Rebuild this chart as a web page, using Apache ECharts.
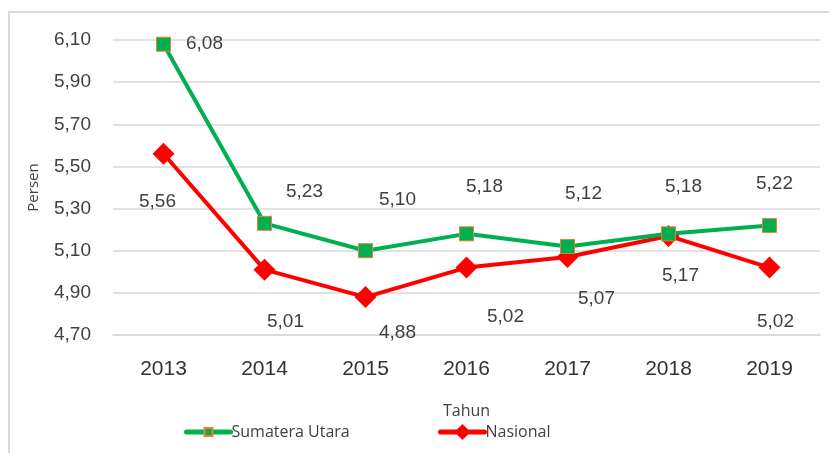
<!DOCTYPE html>
<html>
<head>
<meta charset="utf-8">
<script src="https://cdn.jsdelivr.net/npm/echarts@6/dist/echarts.min.js"></script>
<style>
  html, body { margin: 0; padding: 0; background: #fff; }
  #chart { width: 829px; height: 453px; }
</style>
</head>
<body>
<div id="chart"></div>
<script>
const years = ['2013', '2014', '2015', '2016', '2017', '2018', '2019']
const sumut = [6.08, 5.23, 5.10, 5.18, 5.12, 5.18, 5.22]
const nasional = [5.56, 5.01, 4.88, 5.02, 5.07, 5.17, 5.02]
const yTicks = [4.7, 6.1, 0.2] // min, max, step

// label placement relative to each point (layout only)
const sumutLabelOffsets = [[41, 0], [40, -32], [32, -51], [18, -47], [16, -53], [15, -47], [5, -42]]
const nasLabelOffsets = [[-6, 48], [21, 52], [32, 36], [39, 49], [29, 42], [12, 40], [6, 54]]

const fmt = v => v.toFixed(2).replace('.', ',')
const textColor = '#404040'
const font = 'Liberation Sans, Arial, sans-serif'
const uiFont = 'Open Sans, sans-serif'

const withLabels = (values, offsets) => values.map((v, i) => ({
  value: v,
  label: { offset: offsets[i] }
}))

const legendBase = {
  itemWidth: 44,
  lineStyle: { width: 5, cap: 'round' },
  textStyle: { color: textColor, fontFamily: uiFont, fontSize: 16, padding: [0, 0, 0, -4] }
}

const chart = echarts.init(document.getElementById('chart'), null, { renderer: 'canvas' })

const option = {
  animation: false,
  backgroundColor: '#fff',
  graphic: [{
    type: 'rect',
    shape: { x: 9, y: 12, width: 900, height: 600 },
    style: { fill: 'none', stroke: '#d9d9d9', lineWidth: 2 },
    silent: true
  }],
  grid: { left: 113, right: 9, top: 40, bottom: 118 },
  xAxis: {
    type: 'category',
    data: years,
    boundaryGap: true,
    name: 'Tahun',
    nameLocation: 'middle',
    nameGap: 68,
    nameTextStyle: { color: textColor, fontFamily: uiFont, fontSize: 16 },
    axisLine: { lineStyle: { color: '#d9d9d9', width: 1.5 } },
    axisTick: { show: false },
    axisLabel: { color: '#333', fontFamily: font, fontSize: 21, margin: 24 }
  },
  yAxis: {
    type: 'value',
    min: yTicks[0],
    max: yTicks[1],
    interval: yTicks[2],
    name: 'Persen',
    nameLocation: 'middle',
    nameGap: 72,
    nameRotate: 90,
    nameTextStyle: { color: textColor, fontFamily: uiFont, fontSize: 15 },
    axisLine: { show: false },
    axisTick: { show: false },
    axisLabel: { color: textColor, fontFamily: font, fontSize: 19, margin: 22, formatter: v => fmt(v) },
    splitLine: { lineStyle: { color: '#d9d9d9', width: 1.5 } }
  },
  legend: [
    { ...legendBase, left: 179, top: 419, itemHeight: 10, data: ['Sumatera Utara'] },
    { ...legendBase, left: 433, top: 419, itemHeight: 20, data: ['Nasional'] }
  ],
  series: [
    {
      name: 'Sumatera Utara',
      type: 'line',
      data: withLabels(sumut, sumutLabelOffsets),
      symbol: 'rect',
      symbolSize: 14,
      lineStyle: { color: '#00b050', width: 4 },
      itemStyle: { color: '#00b050', borderColor: '#ed7d31', borderWidth: 1 },
      label: {
        show: true,
        position: 'inside',
        color: textColor,
        fontFamily: font,
        fontSize: 19,
        formatter: p => fmt(p.value)
      },
      z: 3
    },
    {
      name: 'Nasional',
      type: 'line',
      data: withLabels(nasional, nasLabelOffsets),
      symbol: 'diamond',
      symbolSize: 22,
      lineStyle: { color: '#ff0000', width: 4 },
      itemStyle: { color: '#ff0000' },
      label: {
        show: true,
        position: 'inside',
        color: textColor,
        fontFamily: font,
        fontSize: 19,
        formatter: p => fmt(p.value)
      },
      z: 2
    }
  ]
}

chart.setOption(option)
</script>
</body>
</html>
